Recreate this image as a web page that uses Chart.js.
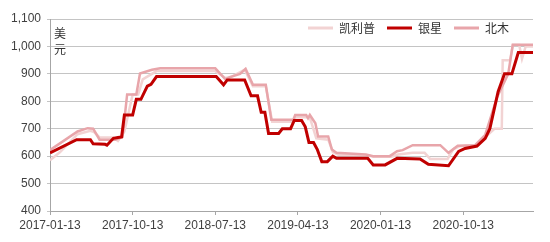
<!DOCTYPE html>
<html>
<head>
<meta charset="utf-8">
<script src="https://cdn.jsdelivr.net/npm/chart.js@4.4.1/dist/chart.umd.min.js"></script>
<style>
  html, body { margin: 0; padding: 0; background: #fff; }
</style>
</head>
<body>
<canvas id="price" width="550" height="242"></canvas>
<script>
// x = months since 2017-01-13
const tickMonths = [0, 9, 18, 27, 36, 45];
const tickLabels = ['2017-01-13', '2017-10-13', '2018-07-13', '2019-04-13', '2020-01-13', '2020-10-13'];

const seriesNames = ['凯利普', '银星', '北木'];

const kellipMonth = [0, 1.1, 3.0, 4.4, 4.8, 5.4, 6.9, 7.4, 8.1, 9.0, 9.6, 10.1, 11.6, 18.0, 19.1, 19.8, 21.2, 22.1, 23.5, 24.2,
  26.3, 26.8, 27.8, 28.3, 29.0, 30.3, 30.8, 31.4, 34.6, 35.2, 37.2, 37.9, 39.5, 40.8, 41.4, 43.3, 43.9, 44.6, 46.4, 47.5,
  48.4, 49.2, 49.3, 50.1, 50.4, 51.1, 51.4, 51.8, 52.6];
const kellipPrice = [585, 615, 680, 692, 688, 668, 668, 655, 690, 825, 825, 880, 910, 910, 885, 890, 915, 855, 855, 725,
  725, 742, 742, 740, 665, 660, 615, 605, 603, 598, 598, 606, 612, 612, 590, 590, 625, 636, 640, 672,
  700, 700, 950, 950, 1005, 1005, 955, 1000, 1000];

const yinxingMonth = [0, 2.9, 4.4, 4.7, 6.0, 6.2, 6.9, 7.4, 7.8, 8.1, 9.0, 9.4, 9.9, 10.6, 11.0, 11.6, 18.1, 18.9, 19.3, 21.2,
  21.9, 22.6, 23.0, 23.4, 23.8, 24.9, 25.3, 26.2, 26.6, 27.4, 27.8, 28.2, 28.7, 29.1, 29.6, 30.2, 30.8, 31.2, 34.6, 35.2,
  36.5, 37.8, 40.3, 41.2, 43.4, 44.5, 45.2, 46.5, 47.4, 47.9, 48.8, 49.5, 50.3, 51.0, 52.6];
const yinxingPrice = [612, 660, 660, 645, 643, 640, 665, 668, 670, 750, 750, 807, 807, 855, 862, 890, 890, 860, 878, 878,
  820, 820, 760, 760, 683, 683, 700, 700, 730, 730, 707, 650, 650, 625, 580, 580, 600, 592, 592, 568,
  568, 592, 590, 570, 565, 617, 628, 637, 665, 700, 835, 900, 900, 978, 978];

const beimuMonth = [0, 3.0, 4.1, 4.7, 5.4, 7.1, 7.9, 8.4, 9.4, 9.8, 11.1, 12.0, 18.0, 19.1, 19.6, 20.7, 21.3, 22.1, 23.5, 24.1,
  26.5, 26.7, 27.9, 28.1, 28.3, 28.9, 29.2, 30.3, 30.7, 31.2, 34.4, 35.2, 37.0, 37.8, 38.4, 39.5, 42.5, 43.4, 44.4, 46.3,
  47.4, 48.7, 49.9, 50.4, 52.6];
const beimuPrice = [622, 690, 702, 700, 660, 660, 670, 825, 825, 901, 915, 920, 920, 880, 888, 900, 918, 860, 860, 733,
  733, 750, 750, 738, 750, 720, 672, 672, 624, 612, 606, 600, 600, 618, 622, 640, 640, 612, 638, 640,
  678, 816, 900, 1006, 1006];

const points = (months, prices) => months.map((m, i) => ({ x: m, y: prices[i] }));

// vertical unit label in the top-left corner of the plot
const unitLabel = {
  id: 'unitLabel',
  afterDraw(chart) {
    const { ctx, chartArea } = chart;
    ctx.save();
    ctx.font = '12px "Noto Sans CJK SC"';
    ctx.fillStyle = '#333';
    ctx.textAlign = 'center';
    ctx.textBaseline = 'middle';
    ctx.fillText('美', chartArea.left + 10, chartArea.top + 14);
    ctx.fillText('元', chartArea.left + 10, chartArea.top + 30);
    ctx.restore();
  }
};

// legend takes no room in the layout and sits inside the plot, top right
const legendSpot = {
  id: 'legendSpot',
  beforeInit(chart) {
    const lg = chart.legend;
    const fit = lg.fit;
    lg.fit = function () {
      fit.call(this);
      this.height = 0;
    };
  },
  afterLayout(chart) {
    const lg = chart.legend;
    lg.left = chart.chartArea.left + 246;
    lg.right = lg.left + 320;
    lg.top = chart.chartArea.top - 9;
    lg.bottom = lg.top + 32;
  }
};

new Chart(document.getElementById('price'), {
  type: 'line',
  data: {
    datasets: [
      {
        label: seriesNames[0],
        data: points(kellipMonth, kellipPrice),
        borderColor: '#F2D3D3',
        backgroundColor: '#F2D3D3',
        borderWidth: 2.5,
        order: 2
      },
      {
        label: seriesNames[1],
        data: points(yinxingMonth, yinxingPrice),
        borderColor: '#C00000',
        backgroundColor: '#C00000',
        borderWidth: 3,
        order: 0
      },
      {
        label: seriesNames[2],
        data: points(beimuMonth, beimuPrice),
        borderColor: '#E8A5AA',
        backgroundColor: '#E8A5AA',
        borderWidth: 2.5,
        order: 1
      }
    ]
  },
  options: {
    responsive: false,
    animation: false,
    devicePixelRatio: 1,
    locale: 'en-US',
    layout: { padding: { top: 19, right: 17, left: 0, bottom: 0 } },
    elements: {
      point: { radius: 0 },
      line: { tension: 0, fill: false }
    },
    plugins: {
      tooltip: { enabled: false },
      legend: {
        position: 'top',
        align: 'start',
        labels: {
          font: { family: '"Noto Sans CJK SC"', size: 12 },
          color: '#333',
          boxWidth: 25,
          boxHeight: 3,
          padding: 12,
          sort: (a, b) => a.datasetIndex - b.datasetIndex,
          generateLabels(chart) {
            const items = Chart.defaults.plugins.legend.labels.generateLabels(chart);
            items.forEach(it => { it.lineWidth = 0; });
            return items;
          }
        }
      }
    },
    scales: {
      x: {
        type: 'linear',
        min: 0,
        max: 52.6,
        afterBuildTicks: axis => { axis.ticks = tickMonths.map(v => ({ value: v })); },
        afterFit: axis => { axis.height = 31; },
        ticks: {
          autoSkip: false,
          maxRotation: 0,
          padding: 3,
          color: '#404040',
          font: { family: '"Liberation Sans"', size: 12 },
          callback: value => tickLabels[tickMonths.indexOf(value)]
        },
        grid: { drawOnChartArea: false, tickLength: 4, color: '#A6A6A6' },
        border: { color: '#A6A6A6' }
      },
      y: {
        min: 400,
        max: 1100,
        afterFit: axis => { axis.width = 50; },
        ticks: {
          stepSize: 100,
          padding: 6,
          color: '#404040',
          font: { family: '"Liberation Sans"', size: 12 }
        },
        grid: { color: '#C4C4C4', tickLength: 3 },
        border: { color: '#A6A6A6' }
      }
    }
  },
  plugins: [unitLabel, legendSpot]
});
</script>
</body>
</html>
